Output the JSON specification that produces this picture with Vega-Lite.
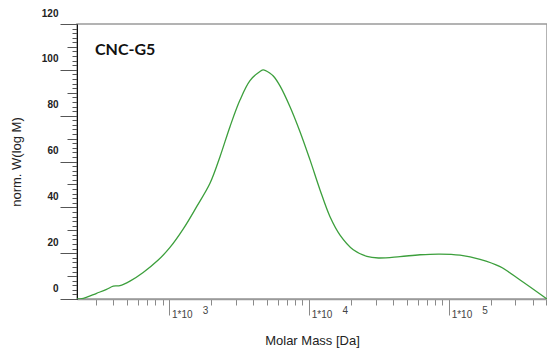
{
  "$schema": "https://vega.github.io/schema/vega-lite/v6.json",
  "width": 470,
  "height": 275,
  "autosize": {"type": "none"},
  "padding": {"left": 77, "top": 24, "right": 0, "bottom": 54},
  "background": "white",
  "config": {
    "view": {"stroke": "#9a9a9a", "strokeWidth": 1.5},
    "axis": {"grid": false, "labelFont": "Liberation Sans", "titleFont": "Liberation Sans"}
  },
  "resolve": {"axis": {"x": "independent", "y": "independent"}},
  "layer": [
    {
      "data": {
        "values": [
          {"M": 220, "w": 0},
          {"M": 244, "w": 0.3},
          {"M": 304, "w": 2.5},
          {"M": 358, "w": 4.2},
          {"M": 400, "w": 5.6},
          {"M": 446, "w": 5.8},
          {"M": 526, "w": 7.8},
          {"M": 654, "w": 11.6},
          {"M": 838, "w": 17.0},
          {"M": 1017, "w": 22.5},
          {"M": 1266, "w": 30.6},
          {"M": 1578, "w": 40.3},
          {"M": 1965, "w": 50.5},
          {"M": 2317, "w": 62.1},
          {"M": 2731, "w": 75.2},
          {"M": 3220, "w": 86.8},
          {"M": 3797, "w": 95.3},
          {"M": 4477, "w": 99.3},
          {"M": 4727, "w": 100},
          {"M": 5278, "w": 98.5},
          {"M": 5572, "w": 97.3},
          {"M": 6223, "w": 93.0},
          {"M": 7336, "w": 83.9},
          {"M": 8650, "w": 73.0},
          {"M": 10200, "w": 60.7},
          {"M": 12030, "w": 47.6},
          {"M": 14180, "w": 35.9},
          {"M": 16720, "w": 27.9},
          {"M": 20800, "w": 21.5},
          {"M": 26000, "w": 18.6},
          {"M": 31500, "w": 17.9},
          {"M": 44870, "w": 18.5},
          {"M": 62370, "w": 19.3},
          {"M": 86700, "w": 19.6},
          {"M": 120600, "w": 19.1},
          {"M": 167700, "w": 17.3},
          {"M": 233200, "w": 14.1},
          {"M": 324300, "w": 8.3},
          {"M": 505000, "w": 0}
        ]
      },
      "mark": {"type": "line", "interpolate": "catmull-rom", "color": "#3c9f3c", "strokeWidth": 1.3, "clip": true},
      "encoding": {
        "x": {
          "field": "M",
          "type": "quantitative",
          "scale": {"type": "log", "domain": [220, 505000], "nice": false},
          "axis": {
            "orient": "bottom",
            "title": "Molar Mass [Da]",
            "titleFontSize": 13,
            "titleFontWeight": "normal",
            "titleColor": "#222",
            "titleY": 41,
            "titleBaseline": "middle",
            "values": [300, 400, 500, 600, 700, 800, 900, 1000, 2000, 3000, 4000, 5000, 6000, 7000, 8000, 9000, 10000, 20000, 30000, 40000, 50000, 60000, 70000, 80000, 90000, 100000, 200000, 300000, 400000, 500000],
            "tickSize": {"expr": "datum.value === 1000 || datum.value === 10000 || datum.value === 100000 ? 16 : 6"},
            "tickColor": "#8a8a8a",
            "domainColor": "#9a9a9a",
            "domainWidth": 1.5,
            "labelExpr": "datum.value === 1000 || datum.value === 10000 || datum.value === 100000 ? '1*10' : ''",
            "labelAlign": "left",
            "labelBaseline": "alphabetic",
            "labelOffset": 2.5,
            "labelPadding": 2.5,
            "labelFontSize": 10,
            "labelColor": "#444",
            "labelOverlap": false,
            "labelFlush": false,
            "labelBound": false
          }
        },
        "y": {
          "field": "w",
          "type": "quantitative",
          "scale": {"domain": [0, 120], "nice": false},
          "axis": {
            "orient": "left",
            "title": "norm. W(log M)",
            "titleFontSize": 13,
            "titleFontWeight": "normal",
            "titleColor": "#222",
            "titleX": -61,
            "titleBaseline": "middle",
            "titleAnchor": "middle",
            "values": [0, 2, 4, 6, 8, 10, 12, 14, 16, 18, 20, 22, 24, 26, 28, 30, 32, 34, 36, 38, 40, 42, 44, 46, 48, 50, 52, 54, 56, 58, 60, 62, 64, 66, 68, 70, 72, 74, 76, 78, 80, 82, 84, 86, 88, 90, 92, 94, 96, 98, 100, 102, 104, 106, 108, 110, 112, 114, 116, 118, 120],
            "tickSize": {"expr": "datum.value % 20 === 0 ? 17 : (datum.value % 10 === 0 ? 10 : 5)"},
            "tickColor": "#555",
            "domainColor": "#111",
            "labelExpr": "datum.value % 20 === 0 ? datum.label : ''",
            "labelBaseline": "alphabetic",
            "labelOffset": -8,
            "labelPadding": 2,
            "labelFontSize": 10,
            "labelFontWeight": "bold",
            "labelColor": "#222",
            "labelOverlap": false,
            "labelFlush": false,
            "labelBound": false
          }
        }
      }
    },
    {
      "data": {"values": [{"label": "CNC-G5"}]},
      "mark": {"type": "text", "align": "left", "baseline": "alphabetic", "font": "Lato", "fontSize": 16, "fontWeight": "bold", "color": "#111"},
      "encoding": {
        "text": {"field": "label"},
        "x": {
          "datum": 296,
          "type": "quantitative",
          "axis": {
            "orient": "bottom",
            "title": null,
            "values": [1000, 10000, 100000],
            "ticks": false,
            "domain": false,
            "labelExpr": "'' + round(log(datum.value) / LN10)",
            "labelAlign": "center",
            "labelBaseline": "alphabetic",
            "labelOffset": 36,
            "labelPadding": 14.5,
            "labelFontSize": 10,
            "labelColor": "#444",
            "labelOverlap": false,
            "labelFlush": false,
            "labelBound": false
          }
        },
        "y": {"datum": 106.5, "type": "quantitative", "axis": null}
      }
    }
  ]
}
